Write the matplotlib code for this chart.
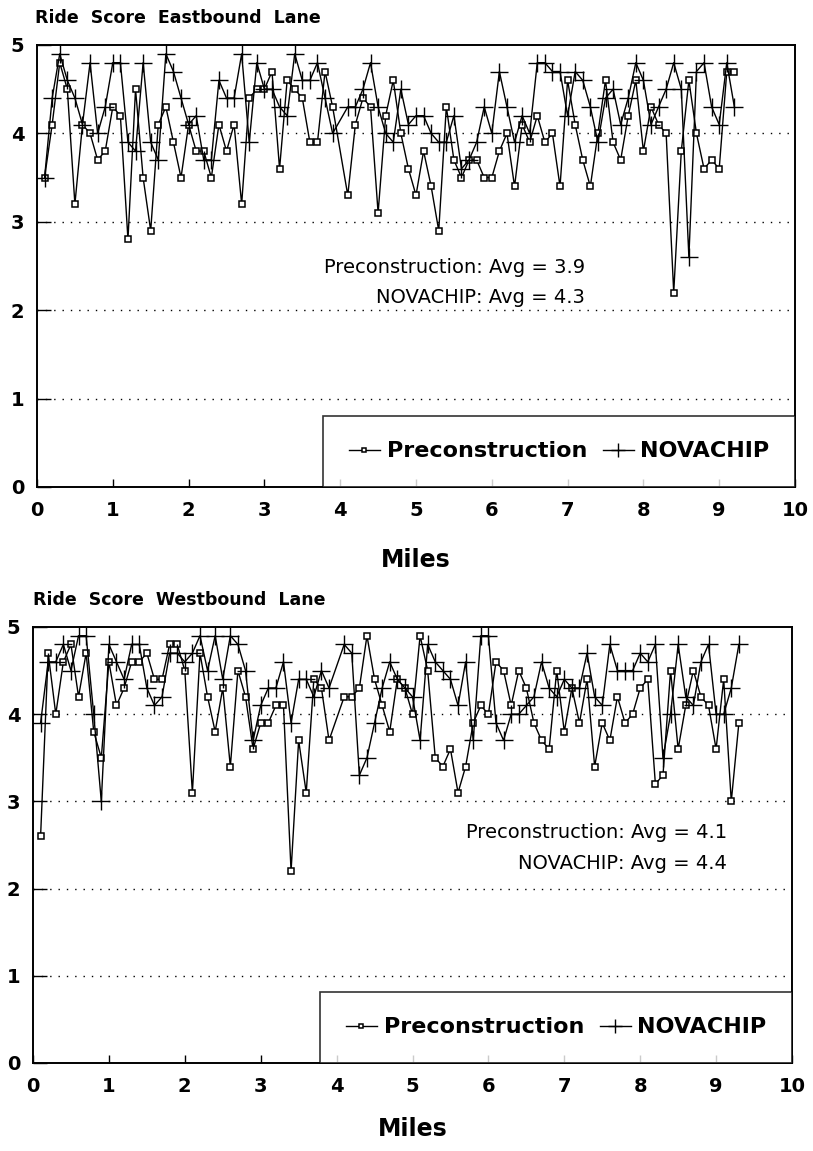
import numpy as np
import matplotlib
matplotlib.use('Agg')
import matplotlib.pyplot as plt

plt.rcParams['font.family'] = ['DejaVu Sans']

# mile 4.0 has no reading in either lane
east_miles = [round(0.1 * i, 1) for i in range(1, 93) if i != 40]
west_miles = [round(0.1 * i, 1) for i in range(1, 94) if i != 40]

east_pre = [3.5, 4.1, 4.8, 4.5, 3.2, 4.1, 4.0, 3.7, 3.8, 4.3,
            4.2, 2.8, 4.5, 3.5, 2.9, 4.1, 4.3, 3.9, 3.5, 4.1,
            3.8, 3.8, 3.5, 4.1, 3.8, 4.1, 3.2, 4.4, 4.5, 4.5,
            4.7, 3.6, 4.6, 4.5, 4.4, 3.9, 3.9, 4.7, 4.3,
            3.3, 4.1, 4.4, 4.3, 3.1, 4.2, 4.6, 4.0, 3.6, 3.3,
            3.8, 3.4, 2.9, 4.3, 3.7, 3.5, 3.7, 3.7, 3.5, 3.5,
            3.8, 4.0, 3.4, 4.1, 3.9, 4.2, 3.9, 4.0, 3.4, 4.6,
            4.1, 3.7, 3.4, 4.0, 4.6, 3.9, 3.7, 4.2, 4.6, 3.8,
            4.3, 4.1, 4.0, 2.2, 3.8, 4.6, 4.0, 3.6, 3.7, 3.6,
            4.7, 4.7]
east_nova = [3.5, 4.4, 4.9, 4.6, 4.4, 4.1, 4.8, 4.0, 4.3, 4.8,
             4.8, 3.9, 3.8, 4.8, 3.9, 3.7, 4.9, 4.7, 4.4, 4.1,
             4.2, 3.7, 3.7, 4.6, 4.4, 4.4, 4.9, 3.9, 4.8, 4.5,
             4.5, 4.3, 4.2, 4.9, 4.6, 4.6, 4.8, 4.4, 4.0,
             4.3, 4.3, 4.5, 4.8, 4.3, 4.0, 3.9, 4.5, 4.1, 4.2,
             4.2, 4.0, 3.9, 3.9, 4.2, 3.6, 3.7, 3.9, 4.3, 4.0,
             4.7, 4.3, 3.9, 4.2, 4.0, 4.8, 4.8, 4.7, 4.7, 4.2,
             4.7, 4.6, 4.3, 3.9, 4.4, 4.5, 4.1, 4.4, 4.8, 4.6,
             4.1, 4.3, 4.5, 4.8, 4.5, 2.6, 4.7, 4.8, 4.3, 4.1,
             4.8, 4.3]

west_pre = [2.6, 4.7, 4.0, 4.6, 4.8, 4.2, 4.7, 3.8, 3.5, 4.6,
            4.1, 4.3, 4.6, 4.6, 4.7, 4.4, 4.4, 4.8, 4.8, 4.5,
            3.1, 4.7, 4.2, 3.8, 4.3, 3.4, 4.5, 4.2, 3.6, 3.9,
            3.9, 4.1, 4.1, 2.2, 3.7, 3.1, 4.4, 4.3, 3.7,
            4.2, 4.2, 4.3, 4.9, 4.4, 4.1, 3.8, 4.4, 4.3, 4.0,
            4.9, 4.5, 3.5, 3.4, 3.6, 3.1, 3.4, 3.9, 4.1, 4.0,
            4.6, 4.5, 4.1, 4.5, 4.3, 3.9, 3.7, 3.6, 4.5, 3.8,
            4.3, 3.9, 4.4, 3.4, 3.9, 3.7, 4.2, 3.9, 4.0, 4.3,
            4.4, 3.2, 3.3, 4.5, 3.6, 4.1, 4.5, 4.2, 4.1, 3.6,
            4.4, 3.0, 3.9]
west_nova = [3.9, 4.6, 4.6, 4.8, 4.5, 4.9, 4.9, 4.0, 3.0, 4.8,
             4.6, 4.4, 4.8, 4.8, 4.3, 4.1, 4.2, 4.7, 4.7, 4.6,
             4.7, 4.9, 4.5, 4.9, 4.4, 4.9, 4.8, 4.5, 3.7, 4.1,
             4.3, 4.3, 4.6, 3.9, 4.4, 4.4, 4.2, 4.5, 4.3,
             4.8, 4.7, 3.3, 3.5, 3.9, 4.3, 4.6, 4.4, 4.3, 4.2,
             3.7, 4.8, 4.6, 4.5, 4.4, 4.1, 4.6, 3.7, 4.9, 4.9,
             3.9, 3.7, 4.0, 4.0, 4.1, 4.2, 4.6, 4.3, 4.2, 4.4,
             4.3, 4.3, 4.7, 4.2, 4.1, 4.8, 4.5, 4.5, 4.5, 4.7,
             4.6, 4.8, 3.5, 4.0, 4.8, 4.2, 4.1, 4.6, 4.8, 4.0,
             4.0, 4.3, 4.8]

panels = [
    ('Ride  Score  Eastbound  Lane', east_miles, east_pre, east_nova, 3.9, 4.3),
    ('Ride  Score  Westbound  Lane', west_miles, west_pre, west_nova, 4.1, 4.4),
]

fig = plt.figure(figsize=(8.13, 11.51), dpi=100)
axes_rects = [[37/813, 1-487/1151, 758/813, 442/1151],
              [33/813, 1-1063/1151, 759/813, 436/1151]]
title_pos = [(35/813, 1-18/1151), (33/813, 1-600/1151)]
avg_pos = [(7.23, 2.48, 2.14), (9.14, 2.64, 2.29)]
label_pads = [20, 15]

for k, (title, miles, pre, nova, avg_pre, avg_nova) in enumerate(panels):
    ax = fig.add_axes(axes_rects[k])
    ax.plot(miles, pre, color='black', lw=1.0, marker='s', ms=4,
            mfc='white', mec='black', mew=1.1, label='Preconstruction')
    ax.plot(miles, nova, color='black', lw=1.0, marker='+', ms=13,
            mew=1.0, label='NOVACHIP')
    ax.set_xlim(0, 10)
    ax.set_ylim(0, 5)
    ax.set_xticks(range(0, 11))
    ax.set_yticks(range(0, 6))
    for g in [1, 2, 3, 4]:
        ax.axhline(g, color='black', lw=1.0, ls=(0, (1, 5)), zorder=0)
    ax.tick_params(axis='x', direction='in', length=6, width=1, pad=10, labelsize=14)
    ax.tick_params(axis='y', direction='in', length=10, width=1, pad=9, labelsize=14)
    for lab in ax.get_xticklabels() + ax.get_yticklabels():
        lab.set_fontweight('bold')
    for sp in ax.spines.values():
        sp.set_linewidth(1.4)
    ax.set_xlabel('Miles', fontsize=17, fontweight='bold', labelpad=label_pads[k])
    leg = ax.legend(loc='lower right', ncol=2, fancybox=False, frameon=True,
                    borderaxespad=0, edgecolor='black',
                    prop={'weight': 'bold', 'size': 16}, handlelength=1.4,
                    handletextpad=0.3, columnspacing=0.7, borderpad=1.15,
                    markerscale=0.8)
    leg.get_frame().set_linewidth(1.2)
    fig.text(title_pos[k][0], title_pos[k][1], title, fontsize=12.5,
             fontweight='bold', ha='left', va='center')
    ax_x, y1, y2 = avg_pos[k]
    ax.text(ax_x, y1, f'Preconstruction: Avg = {avg_pre}', ha='right',
            va='center', fontsize=14)
    ax.text(ax_x, y2, f'NOVACHIP: Avg = {avg_nova}', ha='right',
            va='center', fontsize=14)

fig.savefig('out.png', dpi=100)
